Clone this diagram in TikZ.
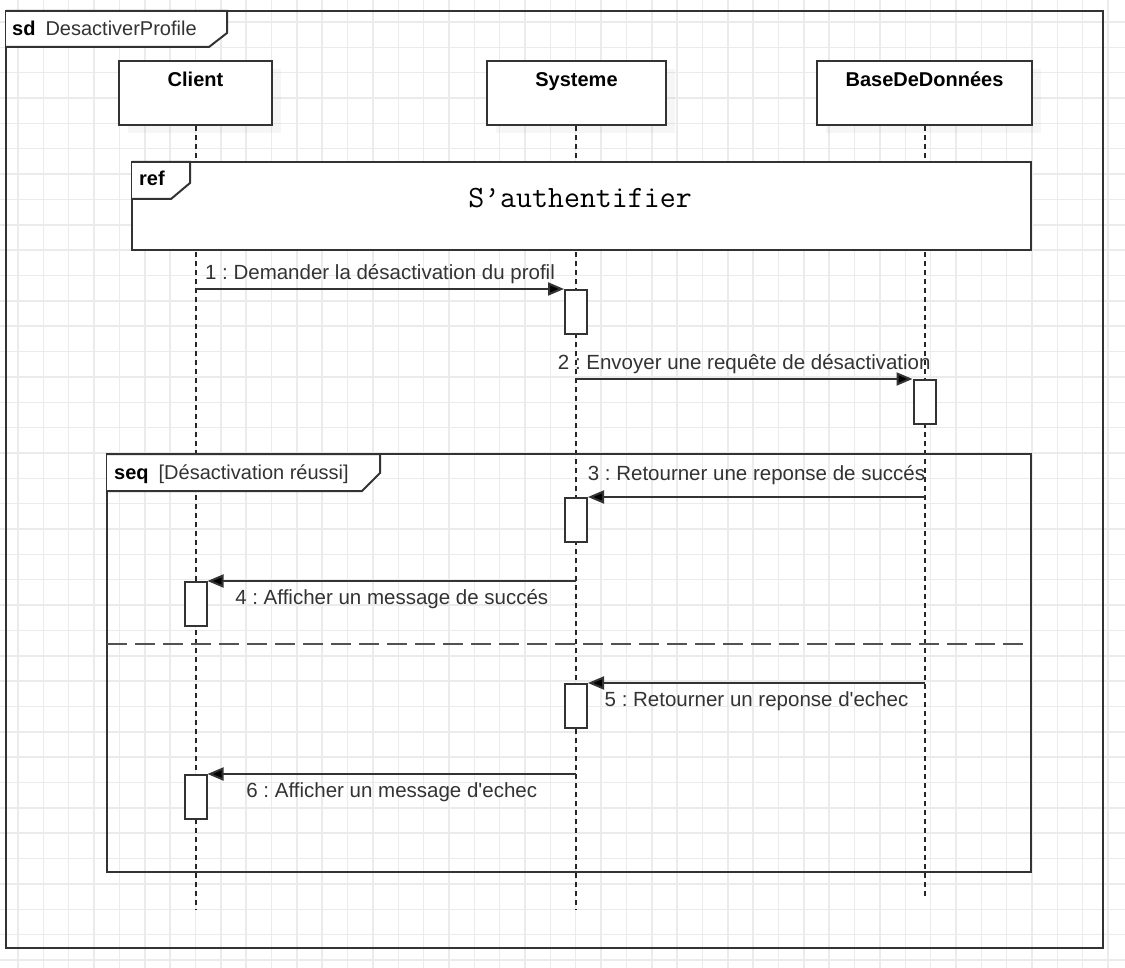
\documentclass[tikz,border=0pt]{standalone}
\usepackage{fontspec}
\setmainfont{Liberation Sans}
\usetikzlibrary{arrows.meta,positioning,shadows}
\frenchspacing

\definecolor{umlline}{HTML}{333333}
\definecolor{umltext}{HTML}{333333}
\definecolor{gridgray}{HTML}{EBEBEB}

\tikzset{
  head/.style={draw=umlline, line width=2pt, fill=white, minimum height=64pt, inner sep=0pt,
    drop shadow={shadow xshift=9pt, shadow yshift=-8pt, opacity=0.07}},
  headtxt/.style={anchor=base, inner sep=0pt, font=\fontsize{20}{24}\selectfont\bfseries, text=black},
  life/.style={line width=2pt, draw=black!85, dash pattern=on 5pt off 4pt},
  act/.style={draw=umlline, line width=2pt, fill=white, minimum width=22pt, minimum height=44pt, inner sep=0pt, anchor=north},
  msg/.style={line width=2pt, draw=umlline, -{Triangle[length=16pt,width=13pt,fill=black]}},
  lbl/.style={font=\fontsize{20.5}{24}\selectfont, text=umltext, inner sep=0pt, text height=15pt, text depth=5pt},
  frame/.style={draw=umlline, line width=2pt},
  tabtxt/.style={anchor=base west, inner sep=0pt, font=\fontsize{20}{24}\selectfont, text=umltext},
}

\begin{document}
\begin{tikzpicture}[x=1pt,y=-1pt]
\useasboundingbox[fill=white] (0,0) rectangle (1125,968);

% background grid
\begin{scope}[shift={(18,22)}]
\draw[gridgray, line width=1.5pt, step=25.35pt] (-18,946) grid (1107,-22);
\end{scope}

% sd frame
\draw[frame] (6,11) rectangle (1103,948);
\draw[frame, fill=white] (6,11) -- (227,11) -- (227,33) -- (209,47) -- (6,47);
\node[tabtxt] (sdt) at (12,36) {{\color{black}\bfseries sd}\hspace{10pt}DesactiverProfile};

% lifelines
\node[head, minimum width=153pt] (cli) at (195.5,93) {};
\node[head, minimum width=179pt] (sys) at (576.5,93) {};
\node[head, minimum width=215pt] (bdd) at (924.5,93) {};
\node[headtxt] (clit) at ([yshift=-27pt]cli.north) {Client};
\node[headtxt] (syst) at ([yshift=-27pt]sys.north) {Systeme};
\node[headtxt] (bddt) at ([yshift=-27pt]bdd.north) {BaseDeDonnées};
\coordinate (cliend) at (196,910);
\coordinate (sysend) at (576,910);
\coordinate (bddend) at (925,897);
\draw[life] (cli.south -| cliend) -- (cliend);
\draw[life] (sys.south -| sysend) -- (sysend);
\draw[life] (bdd.south -| bddend) -- (bddend);

% ref
\draw[frame, fill=white] (132,162) rectangle (1031,250);
\draw[frame, fill=white] (132,162) -- (190,162) -- (190,183) -- (171,199) -- (132,199);
\node[tabtxt, text=black, font=\fontsize{20}{24}\selectfont\bfseries] (reft) at (139,186) {ref};
\node[anchor=base, inner sep=0pt, font=\fontsize{31}{36}\ttfamily] (auth) at (580,208) {S’authentifier};

% seq
\draw[frame] (107,454) rectangle (1031,872);
\draw[frame, fill=white] (107,454) -- (380,454) -- (380,473) -- (362,491) -- (107,491);
\node[tabtxt] (seqt) at (114,479) {{\color{black}\bfseries seq}\hspace{10pt}[Désactivation réussi]};
\draw[umlline!85, line width=2pt, dash pattern=on 20pt off 8pt] (107,644) -- (1031,644);

% activations
\node[act] (a1) at (576,289) {};
\node[act] (a2) at (924.5,379) {};
\node[act] (a3) at (576,497) {};
\node[act] (a4) at (195.5,581) {};
\node[act] (a5) at (576,683) {};
\node[act] (a6) at (195.5,774) {};

% messages
\coordinate (m1) at (196,289);
\coordinate (m2) at (576,379);
\coordinate (m3) at (925,497);
\coordinate (m4) at (576,581);
\coordinate (m5) at (925,683);
\coordinate (m6) at (576,774);
\draw[msg] (m1) -- (a1.north west) node[lbl, midway, above=3pt] (l1) {1 : Demander la désactivation du profil};
\draw[msg] (m2) -- (a2.north west) node[lbl, midway, above=3pt] (l2) {2 : Envoyer une requête de désactivation};
\draw[msg] (m3) -- (a3.north east) node[lbl, midway, above=11pt] (l3) {3 : Retourner une reponse de succés};
\draw[msg] (m4) -- (a4.north east) node[lbl, midway, below=7pt] (l4) {4 : Afficher un message de succés};
\draw[msg] (m5) -- (a5.north east) node[lbl, midway, below=7pt] (l5) {5 : Retourner un reponse d\textquotesingle echec};
\draw[msg] (m6) -- (a6.north east) node[lbl, midway, below=7pt] (l6) {6 : Afficher un message d\textquotesingle echec};
\end{tikzpicture}
\end{document}
